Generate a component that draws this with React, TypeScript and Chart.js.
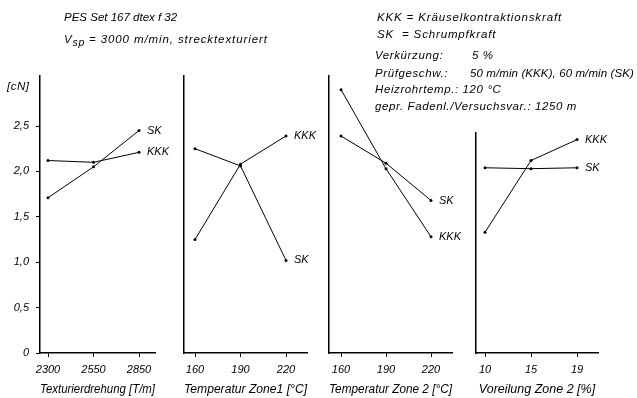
import React, { useEffect, useRef } from "react";
import { Chart, registerables } from "chart.js";

Chart.register(...registerables);

const yTickValues = [0, 0.5, 1, 1.5, 2, 2.5];
const yTickLabels = ["0", "0,5", "1,0", "1,5", "2,0", "2,5"];
const seriesNames = ["KKK", "SK"];

const p1Labels = ["2300", "2550", "2850"];
const p1KKK = [2.12, 2.1, 2.21];
const p1SK = [1.71, 2.05, 2.45];
const p1Title = "Texturierdrehung [T/m]";

const p2Labels = ["160", "190", "220"];
const p2KKK = [1.25, 2.08, 2.39];
const p2SK = [2.25, 2.06, 1.02];
const p2Title = "Temperatur Zone1 [°C]";

const p3Labels = ["160", "190", "220"];
const p3KKK = [2.9, 2.03, 1.28];
const p3SK = [2.39, 2.09, 1.68];
const p3Title = "Temperatur Zone 2 [°C]";

const p4Labels = ["10", "15", "19"];
const p4KKK = [1.33, 2.12, 2.35];
const p4SK = [2.04, 2.03, 2.04];
const p4Title = "Voreilung Zone 2 [%]";

const FONT = "'Liberation Sans', Arial, sans-serif";
const PX_PER_UNIT = 90.8;
const BOTTOM = 353;
const Y_W = 40;
const RIGHT_PAD = 45;

const endLabels = {
  id: "endLabels",
  afterDatasetsDraw(chart: any) {
    const ctx = chart.ctx;
    ctx.save();
    ctx.font = `italic 11px ${FONT}`;
    ctx.fillStyle = "#000";
    ctx.textBaseline = "middle";
    ctx.textAlign = "left";
    chart.data.datasets.forEach((ds: any, i: number) => {
      const meta = chart.getDatasetMeta(i);
      const pt = meta.data[meta.data.length - 1];
      if (pt) ctx.fillText(ds.label, pt.x + 8, pt.y);
    });
    ctx.restore();
  },
};

type PanelProps = {
  labels: string[];
  kkk: number[];
  sk: number[];
  title: string;
  axisLeft: number;
  axisRight: number;
  firstX: number;
  lastX: number;
  yMax: number;
  showY: boolean;
};

function Panel(p: PanelProps) {
  const ref = useRef<HTMLCanvasElement>(null);
  const width = Y_W + (p.axisRight - p.axisLeft) + RIGHT_PAD;
  useEffect(() => {
    if (!ref.current) return;
    const step = (p.lastX - p.firstX) / (p.labels.length - 1);
    const xMin = -(p.firstX - p.axisLeft) / step;
    const xMax = (p.axisRight - p.firstX) / step;
    const font = { family: FONT, size: 11, style: "italic" as const };
    const titleFont = { family: FONT, size: 12.5, style: "italic" as const };
    const mk = (vals: number[]) => vals.map((v, i) => ({ x: i, y: v }));
    const chart = new Chart(ref.current, {
      type: "line",
      data: {
        datasets: [
          { label: seriesNames[0], data: mk(p.kkk) },
          { label: seriesNames[1], data: mk(p.sk) },
        ].map((d) => ({
          ...d,
          borderColor: "#000",
          backgroundColor: "#000",
          borderWidth: 1,
          pointRadius: 1.5,
          pointBackgroundColor: "#000",
          pointBorderWidth: 0,
          tension: 0,
          clip: false as any,
        })),
      },
      options: {
        animation: false,
        responsive: false,
        layout: {
          padding: { top: BOTTOM - p.yMax * PX_PER_UNIT, right: RIGHT_PAD, left: 0, bottom: 0 },
        },
        plugins: { legend: { display: false }, tooltip: { enabled: false } },
        scales: {
          x: {
            type: "linear",
            min: xMin,
            max: xMax,
            afterBuildTicks: (s: any) => {
              s.ticks = p.labels.map((_, i) => ({ value: i }));
            },
            afterFit: (s: any) => {
              s.height = 45;
            },
            ticks: {
              callback: (_v: any, i: number) => p.labels[i],
              font,
              color: "#000",
              padding: 6,
              maxRotation: 0,
              autoSkip: false,
            },
            grid: { drawOnChartArea: false, drawTicks: true, tickLength: 4, color: "#000" },
            border: { display: true, color: "#000", width: 1.5 },
            title: {
              display: true,
              text: p.title,
              font: titleFont,
              color: "#000",
              padding: { top: 1, bottom: 1 },
            },
          },
          y: {
            type: "linear",
            min: 0,
            max: p.yMax,
            afterFit: (s: any) => {
              s.width = Y_W;
            },
            afterBuildTicks: (s: any) => {
              s.ticks = p.showY ? yTickValues.map((v) => ({ value: v })) : [];
            },
            ticks: {
              display: p.showY,
              callback: (_v: any, i: number) => yTickLabels[i],
              font,
              color: "#000",
              padding: 7,
            },
            grid: {
              display: p.showY,
              drawOnChartArea: false,
              drawTicks: true,
              tickLength: 4,
              color: "#000",
            },
            border: { display: true, color: "#000", width: 1.5 },
          },
        },
      },
      plugins: [endLabels],
    });
    return () => chart.destroy();
  }, []);
  return (
    <canvas
      ref={ref}
      width={width}
      height={398}
      style={{ position: "absolute", left: p.axisLeft - Y_W, top: 0, width, height: 398 }}
    />
  );
}

const txt: React.CSSProperties = {
  position: "absolute",
  fontFamily: FONT,
  fontStyle: "italic",
  fontSize: 11.5,
  lineHeight: "14px",
  whiteSpace: "nowrap",
  color: "#000",
  letterSpacing: "0.6px",
};

export default function App() {
  return (
    <div
      style={{
        position: "fixed",
        left: 0,
        top: 0,
        width: 637,
        height: 398,
        overflow: "hidden",
        background: "#fff",
      }}
    >
      <Panel labels={p1Labels} kkk={p1KKK} sk={p1SK} title={p1Title} axisLeft={40} axisRight={155} firstX={48} lastX={139} yMax={3.05} showY={true} />
      <Panel labels={p2Labels} kkk={p2KKK} sk={p2SK} title={p2Title} axisLeft={184} axisRight={307} firstX={195} lastX={286} yMax={3.05} showY={false} />
      <Panel labels={p3Labels} kkk={p3KKK} sk={p3SK} title={p3Title} axisLeft={329} axisRight={452} firstX={341} lastX={431} yMax={3.05} showY={false} />
      <Panel labels={p4Labels} kkk={p4KKK} sk={p4SK} title={p4Title} axisLeft={476} axisRight={598} firstX={485} lastX={577} yMax={2.43} showY={false} />

      <div style={{ ...txt, left: 64, top: 10, letterSpacing: "0px" }}>PES Set 167 dtex f 32</div>
      <div style={{ ...txt, left: 64, top: 32, letterSpacing: "0.9px" }}>
        V<sub style={{ fontSize: 10.5, letterSpacing: "0.6px" }}>sp</sub> = 3000 m/min, strecktexturiert
      </div>
      <div style={{ ...txt, left: 7, top: 79, letterSpacing: "0.5px" }}>[cN]</div>

      <div style={{ ...txt, left: 377, top: 10, letterSpacing: "0.85px" }}>KKK = Kräuselkontraktionskraft</div>
      <div style={{ ...txt, left: 377, top: 27, letterSpacing: "0.85px" }}>SK</div>
      <div style={{ ...txt, left: 402, top: 27, letterSpacing: "0.85px" }}>= Schrumpfkraft</div>
      <div style={{ ...txt, left: 375, top: 48 }}>Verkürzung:</div>
      <div style={{ ...txt, left: 472, top: 48 }}>5 %</div>
      <div style={{ ...txt, left: 375, top: 66 }}>Prüfgeschw.:</div>
      <div style={{ ...txt, left: 470, top: 66, letterSpacing: "0.1px" }}>50 m/min (KKK), 60 m/min (SK)</div>
      <div style={{ ...txt, left: 375, top: 82 }}>Heizrohrtemp.: 120 °C</div>
      <div style={{ ...txt, left: 375, top: 99 }}>gepr. Fadenl./Versuchsvar.: 1250 m</div>
    </div>
  );
}
